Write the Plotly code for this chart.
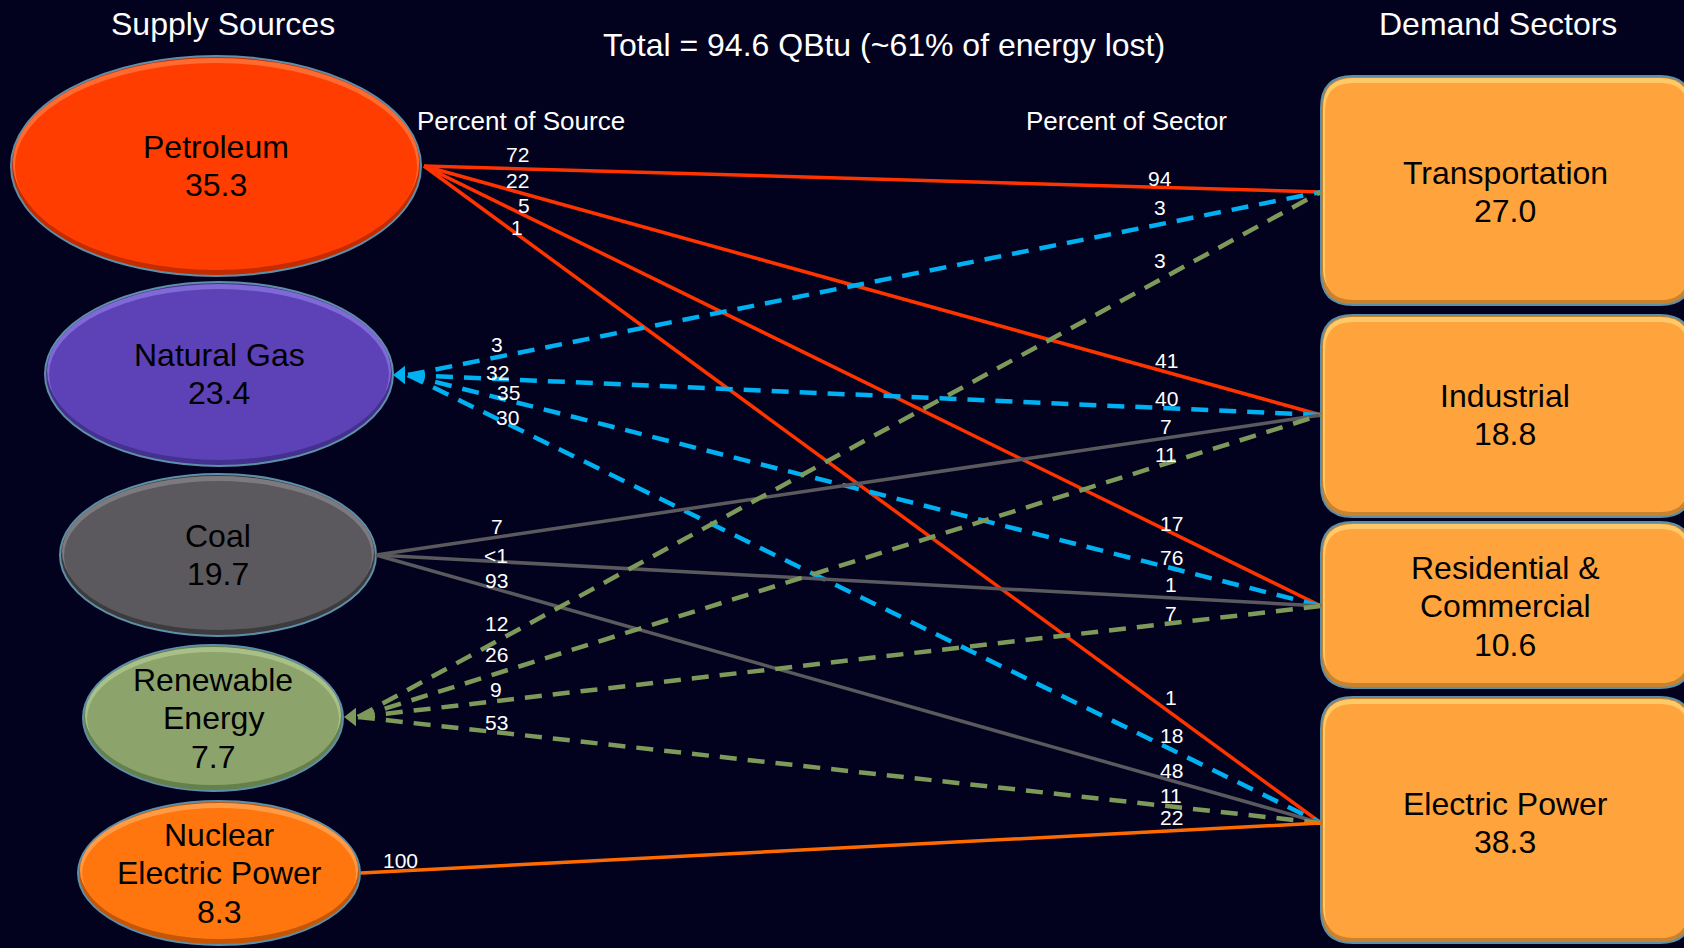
import plotly.graph_objects as go

# ---------------- data ----------------
sources = ["Petroleum", "Natural Gas", "Coal", "Renewable<br>Energy", "Nuclear<br>Electric Power"]
source_values = [35.3, 23.4, 19.7, 7.7, 8.3]
sectors = ["Transportation", "Industrial", "Residential &<br>Commercial", "Electric Power"]
sector_values = [27.0, 18.8, 10.6, 38.3]

link_source = [0, 0, 0, 0, 1, 1, 1, 1, 2, 2, 2, 3, 3, 3, 3, 4]
link_target = [0, 1, 2, 3, 0, 1, 2, 3, 1, 2, 3, 0, 1, 2, 3, 3]
pct_of_source = ["72", "22", "5", "1", "3", "32", "35", "30", "7", "<1", "93", "12", "26", "9", "53", "100"]
pct_of_sector = ["94", "41", "17", "1", "3", "40", "76", "18", "7", "1", "48", "3", "11", "7", "11", "22"]

title_total = "Total = 94.6 QBtu (~61% of energy lost)"
head_left = "Supply Sources"
head_right = "Demand Sectors"
sub_left = "Percent of Source"
sub_right = "Percent of Sector"

# ---------------- layout / style ----------------
W, H = 1684, 948
BG = "#03021E"
FONT = "Liberation Sans, Arial, sans-serif"

src_center = [(216, 166), (219, 374), (218, 555), (213, 718), (219, 873)]
src_radius = [(205, 110), (174, 92), (158, 81), (130, 73), (141, 72)]
src_fill = ["#FF3D00", "#5C42B6", "#5B595D", "#8CA46B", "#FF760E"]
src_light = ["#FF6A30", "#7F69D6", "#7C7A7F", "#A9BF88", "#FF9A45"]
src_dark = ["#C42C00", "#44308E", "#3C3B3E", "#66804C", "#C45606"]
src_anchor = [(424, 166), (408, 375), (376, 555), (358, 717), (361, 873)]
src_arrow = {1: (393, 375), 3: (344, 717)}

# label placement (layout only): x position and distance above the link line, per link
src_label_x = [517, 517, 524, 517, 497, 497, 508, 507, 497, 496, 496, 496, 496, 496, 496, 400]
src_label_up = [14, 11, 10, 7, 13, 6, 8, 6, 11, 6, 9, 18, 19, 12, 10, 10]
sec_label_x = [1160, 1166, 1171, 1171]
sec_label_up = [9, 11, 9, 16, 17, 10, 11, 14, 11, 13, 10, 19, 9, 10, 11, 13]

link_color = ["#FF3300", "#00B0F0", "#5A595D", "#7E9A5A", "#FF6A00"]
link_dash = ["solid", "17px,11px", "solid", "17px,11px", "solid"]
link_width = [3.5, 4.5, 3.5, 4.5, 3.5]

box_x0, box_x1, box_r = 1321, 1692, 32
box_y = [(76, 305), (315, 517), (522, 688), (697, 943)]
sec_anchor_x = 1321
sec_anchor_y = [192, 415, 606, 823]
sec_text_x = 1505
BOX_FILL = "#FFA43D"
BOX_LIGHT = "#FFC967"
BOX_DARK = "#C9822E"
EDGE = "#5E8FA8"
LINE_H = 38.5
NODE_FONT = 32
HEAD_FONT = 32
SUB_FONT = 26
NUM_FONT = 21

fig = go.Figure()
shapes = []
annotations = []


def rrect(x0, y0, x1, y1, r):
    return (f"M {x0 + r},{y0} L {x1 - r},{y0} Q {x1},{y0} {x1},{y0 + r} "
            f"L {x1},{y1 - r} Q {x1},{y1} {x1 - r},{y1} L {x0 + r},{y1} "
            f"Q {x0},{y1} {x0},{y1 - r} L {x0},{y0 + r} Q {x0},{y0} {x0 + r},{y0} Z")


def add_text_lines(text, cx, cy, size, color):
    lines = text.split("<br>")
    n = len(lines)
    for i, ln in enumerate(lines):
        y = cy + (i - (n - 1) / 2) * LINE_H
        annotations.append(dict(x=cx, y=y, xref="x", yref="y", text=ln, showarrow=False,
                                xanchor="center", yanchor="middle",
                                font=dict(family=FONT, size=size, color=color)))


# source ellipses (bevel: dark rim at bottom, light highlight at top)
for i, name in enumerate(sources):
    cx, cy = src_center[i]
    rx, ry = src_radius[i]
    shapes.append(dict(type="circle", xref="x", yref="y", x0=cx - rx, x1=cx + rx, y0=cy - ry, y1=cy + ry,
                       fillcolor=src_dark[i], line=dict(color=EDGE, width=2), layer="below"))
    shapes.append(dict(type="circle", xref="x", yref="y", x0=cx - rx + 2, x1=cx + rx - 2,
                       y0=cy - ry + 2, y1=cy + ry - 8,
                       fillcolor=src_light[i], line=dict(width=0), layer="below"))
    shapes.append(dict(type="circle", xref="x", yref="y", x0=cx - rx + 4, x1=cx + rx - 4,
                       y0=cy - ry + 7, y1=cy + ry - 6,
                       fillcolor=src_fill[i], line=dict(width=0), layer="below"))
    add_text_lines(f"{name}<br>{source_values[i]:.1f}", cx, cy, NODE_FONT, "#000000")

# sector boxes
for j, name in enumerate(sectors):
    y0, y1 = box_y[j]
    shapes.append(dict(type="path", xref="x", yref="y", path=rrect(box_x0, y0, box_x1, y1, box_r),
                       fillcolor=BOX_DARK, line=dict(color=EDGE, width=2), layer="below"))
    shapes.append(dict(type="path", xref="x", yref="y",
                       path=rrect(box_x0 + 2, y0 + 2, box_x1 - 2, y1 - 7, box_r - 2),
                       fillcolor=BOX_LIGHT, line=dict(width=0), layer="below"))
    shapes.append(dict(type="path", xref="x", yref="y",
                       path=rrect(box_x0 + 4, y0 + 7, box_x1 - 4, y1 - 5, box_r - 4),
                       fillcolor=BOX_FILL, line=dict(width=0), layer="below"))
    add_text_lines(f"{name}<br>{sector_values[j]:.1f}", sec_text_x, sec_anchor_y[j], NODE_FONT, "#000000")

# links
for k in range(len(link_source)):
    s, t = link_source[k], link_target[k]
    x0, y0 = src_anchor[s]
    x1, y1 = sec_anchor_x, sec_anchor_y[t]
    fig.add_trace(go.Scatter(x=[x0, x1], y=[y0, y1], mode="lines", hoverinfo="skip",
                             line=dict(color=link_color[s], width=link_width[s], dash=link_dash[s]),
                             showlegend=False))
    slope = (y1 - y0) / (x1 - x0)
    lx = src_label_x[k]
    ly = y0 + (lx - x0) * slope - src_label_up[k]
    annotations.append(dict(x=lx, y=ly, xref="x", yref="y", text=pct_of_source[k], showarrow=False,
                            xanchor="center", yanchor="middle",
                            font=dict(family=FONT, size=NUM_FONT, color="#FFFFFF")))
    rx_ = sec_label_x[t]
    ry_ = y0 + (rx_ - x0) * slope - sec_label_up[k]
    annotations.append(dict(x=rx_, y=ry_, xref="x", yref="y", text=pct_of_sector[k], showarrow=False,
                            xanchor="center", yanchor="middle",
                            font=dict(family=FONT, size=NUM_FONT, color="#FFFFFF")))

# arrowheads on dashed sources
for s, (ax, ay) in src_arrow.items():
    fig.add_trace(go.Scatter(x=[ax + 8], y=[ay], mode="markers", hoverinfo="skip", showlegend=False,
                             marker=dict(symbol="triangle-left", size=16, color=link_color[s],
                                         line=dict(width=0))))

# headings
for txt, x, y, size in [(head_left, 223, 24, HEAD_FONT), (head_right, 1498, 24, HEAD_FONT),
                        (title_total, 884, 45, HEAD_FONT), (sub_left, 521, 121, SUB_FONT),
                        (sub_right, 1126, 121, SUB_FONT)]:
    annotations.append(dict(x=x, y=y, xref="x", yref="y", text=txt, showarrow=False,
                            xanchor="center", yanchor="middle",
                            font=dict(family=FONT, size=size, color="#FFFFFF")))

fig.update_layout(
    width=W, height=H, autosize=False,
    margin=dict(l=0, r=0, t=0, b=0, pad=0),
    paper_bgcolor=BG, plot_bgcolor=BG,
    xaxis=dict(range=[0, W], visible=False, fixedrange=True, domain=[0, 1]),
    yaxis=dict(range=[H, 0], visible=False, fixedrange=True, domain=[0, 1]),
    shapes=shapes, annotations=annotations, showlegend=False,
)

fig.write_html("out.html", config={"displayModeBar": False})
